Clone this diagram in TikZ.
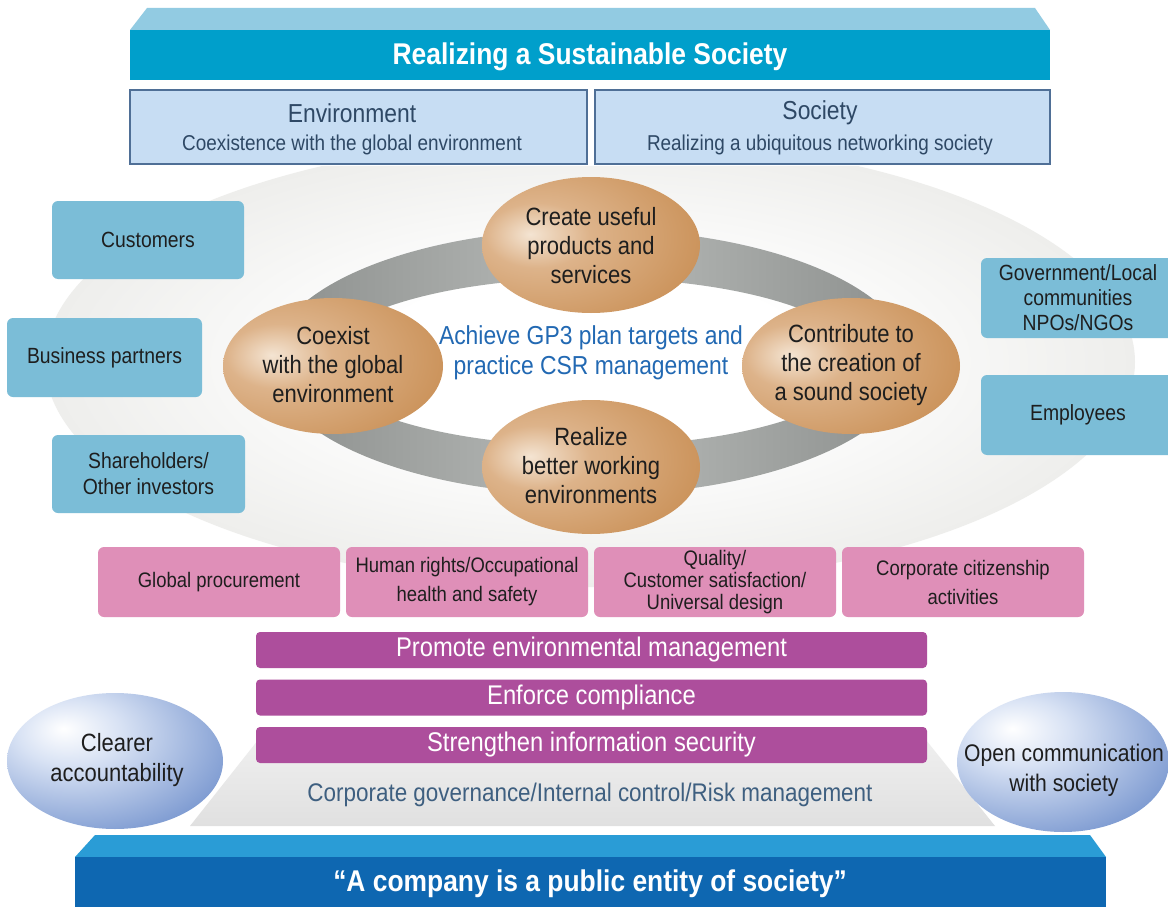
\documentclass[tikz,border=0pt]{standalone}
\usepackage{fontspec}
\setmainfont{Liberation Sans}[FakeStretch=0.88]
\usetikzlibrary{shapes.geometric}
\definecolor{topcyan}{HTML}{009FCB}
\definecolor{toplight}{HTML}{92CBE2}
\definecolor{envfill}{HTML}{C7DDF3}
\definecolor{envdraw}{HTML}{4F6F96}
\definecolor{envtext}{HTML}{2E4865}
\definecolor{stakecol}{HTML}{7BBDD7}
\definecolor{pinkcol}{HTML}{DF8FB8}
\definecolor{purplecol}{HTML}{AD4E9C}
\definecolor{bluetext}{HTML}{2269B3}
\definecolor{govtext}{HTML}{3E5F80}
\definecolor{botlight}{HTML}{2A9CD6}
\definecolor{botdark}{HTML}{0E67B1}
\definecolor{txtdark}{HTML}{1E1E1E}
\definecolor{bgmid}{HTML}{EFEFED}
\definecolor{bgedge}{HTML}{E5E5E3}
\definecolor{orhi}{HTML}{F4E4D2}
\definecolor{ormid}{HTML}{DDB38A}
\definecolor{orbase}{HTML}{C98F55}
\definecolor{ordark}{HTML}{B87C44}
\definecolor{bhi}{HTML}{D8E2F4}
\definecolor{spherecol}{HTML}{7090CC}
\definecolor{spheredark}{HTML}{4F6FB0}
\definecolor{ringdark}{HTML}{8C8F8D}
\definecolor{ringlight}{HTML}{B9BCBA}
\definecolor{platlight}{HTML}{F0F0F0}
\definecolor{platdark}{HTML}{E0E0E0}
\pgfdeclareradialshading{bgshade}{\pgfpoint{0bp}{0bp}}{color(0bp)=(white); color(10bp)=(white); color(24bp)=(bgmid); color(35bp)=(bgedge); color(100bp)=(bgedge)}
\pgfdeclareradialshading{orshade}{\pgfpoint{-14bp}{4bp}}{color(0bp)=(orhi); color(12bp)=(ormid); color(38bp)=(orbase); color(62bp)=(ordark); color(100bp)=(ordark)}
\pgfdeclareradialshading{blshade}{\pgfpoint{-12bp}{12bp}}{color(0bp)=(white); color(12bp)=(bhi); color(40bp)=(spherecol); color(62bp)=(spheredark); color(100bp)=(spheredark)}
\newcommand\fsz[2]{\fontsize{#1}{#2}\selectfont}
\tikzset{
  stake/.style={rectangle, rounded corners=6pt, fill=stakecol, text=txtdark, align=center, inner sep=1pt, font=\fsz{22}{26}},
  pinkbox/.style={rectangle, rounded corners=6pt, fill=pinkcol, text=txtdark, align=center, inner sep=1pt, minimum width=242pt, minimum height=70pt, font=\fsz{21}{29}},
  purplebar/.style={rectangle, rounded corners=4pt, fill=purplecol, text=white, inner sep=1pt, minimum width=671pt, minimum height=36pt, font=\fsz{27}{30}},
  envbox/.style={rectangle, fill=envfill, draw=envdraw, line width=1.2pt, minimum height=74pt},
  envhead/.style={text=envtext, font=\fsz{26}{28}},
  envsub/.style={text=envtext, font=\fsz{21.5}{24}},
  ovaltext/.style={align=center, text=txtdark, font=\fsz{25}{29}},
  spheretext/.style={align=center, text=txtdark, font=\fsz{25}{30}},
}
\begin{document}
\begin{tikzpicture}[x=1pt,y=-1pt]
\useasboundingbox (0,0) rectangle (1168,907);
\fill[white] (0,0) rectangle (1168,907);
% background ellipse
\path[shading=bgshade] (590,362) ellipse [x radius=545, y radius=225];
% top band
\fill[white] (120,80) rectangle (1060,166);
\fill[toplight] (147,8) -- (1035,8) -- (1050,30) -- (130,30) -- cycle;
\fill[topcyan] (130,30) rectangle (1050,80);
\node[text=white, font=\bfseries\fsz{30}{32}] (title) at (590,57) {Realizing a Sustainable Society};
% environment / society
\node[envbox, minimum width=457pt] (envbox) at (358.5,127) {};
\node[envhead] (envh) at (352,113) {Environment};
\node[envsub] (envs) at (352,145) {Coexistence with the global environment};
\node[envbox, minimum width=455pt] (socbox) at (822.5,127) {};
\node[envhead] (soch) at (820,113) {Society};
\node[envsub] (socs) at (820,145) {Realizing a ubiquitous networking society};
% stakeholders
\node[stake, minimum width=192pt, minimum height=78pt] (cust) at (148,240) {Customers};
\node[stake, minimum width=195pt, minimum height=79pt] (bp) at (104.5,357.5) {Business partners};
\node[stake, minimum width=193pt, minimum height=78pt] (sh) at (148.5,474) {Shareholders/\\Other investors};
\node[stake, minimum width=194pt, minimum height=80pt, font=\fsz{22}{25}] (gov) at (1078,298) {Government/Local\\communities\\NPOs/NGOs};
\node[stake, minimum width=194pt, minimum height=80pt] (emp) at (1078,415) {Employees};
% ring
\path[even odd rule, left color=ringdark, right color=ringdark, middle color=ringlight]
  (591,362) ellipse [x radius=320, y radius=133]
  (591,362) ellipse [x radius=270, y radius=84];
% oval shapes
\path[shading=orshade] (591,245) ellipse [x radius=109, y radius=68];
\path[shading=orshade] (591,467) ellipse [x radius=109, y radius=67];
\path[shading=orshade] (333,366) ellipse [x radius=110, y radius=68];
\path[shading=orshade] (851,366) ellipse [x radius=109, y radius=68];
\node[ovaltext] (otop) at (591,246) {Create useful\\products and\\services};
\node[ovaltext] (obot) at (591,466) {Realize\\better working\\environments};
\node[ovaltext] (oleft) at (333,365) {Coexist\\with the global\\environment};
\node[ovaltext] (oright) at (851,365) {Contribute to\\the creation of\\a sound society};
\node[align=center, text=bluetext, font=\fsz{26}{30}] (center) at (591,353) {Achieve GP3 plan targets and\\practice CSR management};
% pink boxes
\node[pinkbox] (p1) at (219,582) {Global procurement};
\node[pinkbox] (p2) at (467,582) {Human rights/Occupational\\health and safety};
\node[pinkbox, font=\fsz{21}{22}] (p3) at (715,582) {Quality/\\Customer satisfaction/\\Universal design};
\node[pinkbox] (p4) at (963,582) {Corporate citizenship\\activities};
% governance platform
\path[top color=platlight, bottom color=platdark] (190,826) -- (262,735) -- (922,735) -- (995,826) -- cycle;
\node[text=govtext, font=\fsz{25.5}{28}] (gov2) at (590,795) {Corporate governance/Internal control/Risk management};
% purple bars
\node[purplebar] (b1) at (591.5,650) {Promote environmental management};
\node[purplebar] (b2) at (591.5,697.5) {Enforce compliance};
\node[purplebar] (b3) at (591.5,745) {Strengthen information security};
% spheres
\path[shading=blshade] (115,761) ellipse [x radius=108, y radius=68];
\path[shading=blshade] (1063,762) ellipse [x radius=106, y radius=70];
\node[spheretext] (sl) at (117,760) {Clearer\\accountability};
\node[spheretext, font=\fsz{24}{30}] (sr) at (1064,770) {Open communication\\with society};
% bottom band
\fill[botlight] (95,835) -- (1090,835) -- (1106,857) -- (75,857) -- cycle;
\fill[botdark] (75,857) rectangle (1106,907);
\node[text=white, font=\bfseries\fsz{30}{32}] (motto) at (590,884) {“A company is a public entity of society”};
\end{tikzpicture}
\end{document}
